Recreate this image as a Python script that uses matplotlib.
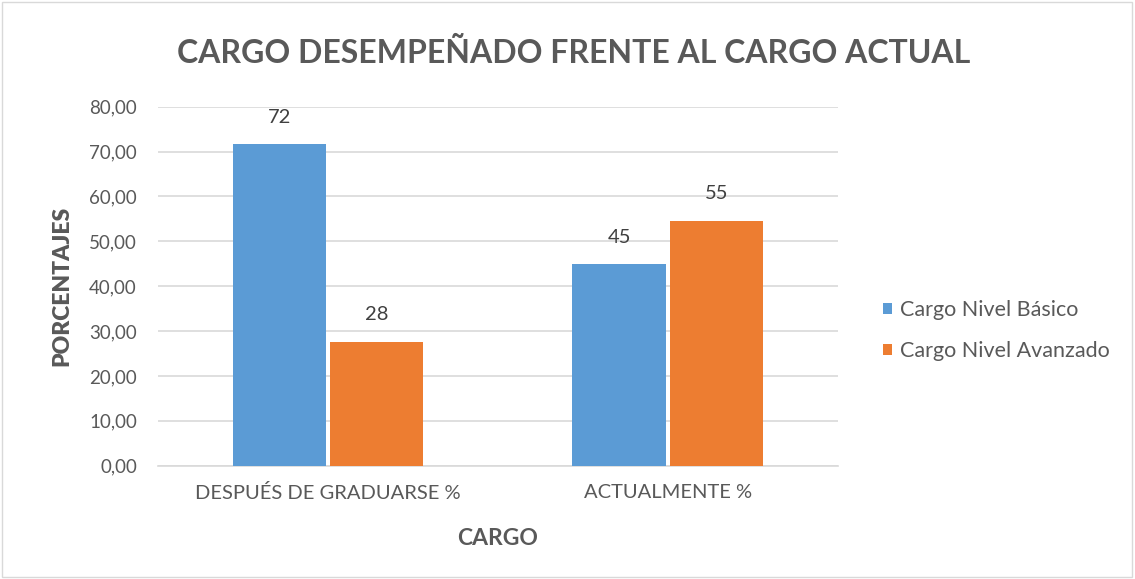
import matplotlib.pyplot as plt
import numpy as np

plt.rcParams['font.family'] = ['Lato', 'DejaVu Sans']

# Data
categories = ['DESPUÉS DE GRADUARSE %', 'ACTUALMENTE %']
series_names = ['Cargo Nivel Básico', 'Cargo Nivel Avanzado']
basico = [71.7, 44.9]
avanzado = [27.6, 54.6]
colors = ['#5b9bd5', '#ed7d31']
text_color = '#595959'

fig = plt.figure(figsize=(11.35, 5.79), dpi=100)
ax = fig.add_axes([0.139, 0.1957, 0.599, 0.62])

x = np.arange(len(categories))
w = 0.274
off = 0.143
b1 = ax.bar(x - off, basico, w, color=colors[0], label=series_names[0], zorder=3)
b2 = ax.bar(x + off, avanzado, w, color=colors[1], label=series_names[1], zorder=3)

for bars in (b1, b2):
    for b in bars:
        ax.text(b.get_x() + b.get_width() / 2, b.get_height() + 6,
                f"{b.get_height():.0f}", ha='center', va='center',
                fontsize=14.5, color='#404040')

ax.set_xlim(-0.5, 1.5)
ax.set_ylim(0, 80)
ax.set_yticks(np.arange(0, 81, 10))
ax.set_yticklabels([f"{v:.2f}".replace('.', ',') for v in np.arange(0, 81, 10)])
ax.set_xticks(x)
ax.set_xticklabels(categories)
ax.tick_params(axis='both', length=0, colors=text_color)
ax.tick_params(axis='y', pad=15, labelsize=13.5)
ax.tick_params(axis='x', pad=13, labelsize=14.5)
ax.grid(axis='y', color='#d9d9d9', linewidth=1.2, zorder=0)
for s in ['top', 'right', 'left']:
    ax.spines[s].set_visible(False)
ax.spines['bottom'].set_color('#d9d9d9')
ax.spines['bottom'].set_linewidth(1.2)

ax.set_xlabel('CARGO', fontsize=16.5, fontweight='bold', color=text_color, labelpad=19)
ax.set_ylabel('PORCENTAJES', fontsize=16.5, fontweight='heavy', color=text_color, labelpad=12)

fig.text(0.505, 0.908, 'CARGO DESEMPEÑADO FRENTE AL CARGO ACTUAL', ha='center', va='center',
         fontsize=23, fontweight='bold', color=text_color)

leg = fig.legend(handles=[b1, b2], loc='center left', bbox_to_anchor=(0.778, 0.429),
                 frameon=False, borderpad=0, borderaxespad=0,
                 prop={'size': 15.5}, labelcolor=text_color,
                 handlelength=0.42, handleheight=0.42,
                 labelspacing=1.0, handletextpad=0.37)

# Light border around chart
fig.patches.append(plt.Rectangle((0.002, 0.003), 0.995, 0.994, transform=fig.transFigure,
                                 fill=False, edgecolor='#d9d9d9', linewidth=1))

fig.savefig('out.png', dpi=100)
